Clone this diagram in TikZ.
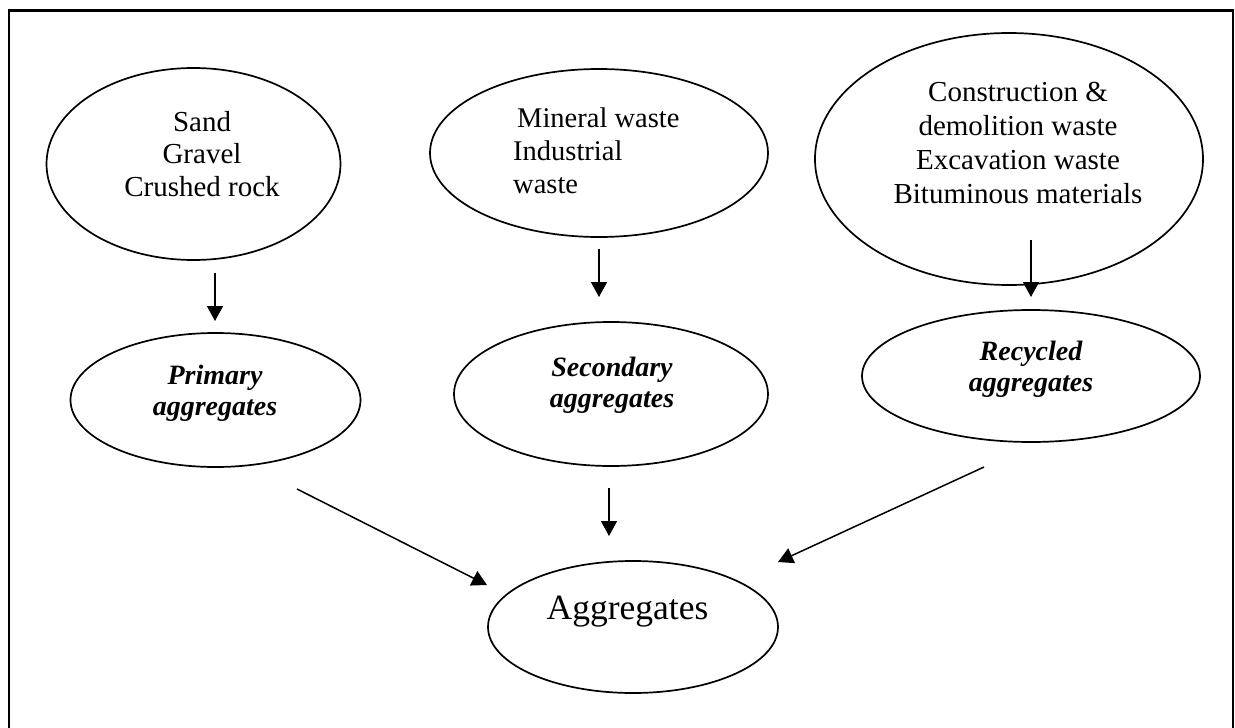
\documentclass[tikz,border=0pt]{standalone}
\usepackage{fontspec}
\setmainfont{Liberation Serif}
\usetikzlibrary{arrows.meta,shapes.geometric}
\tikzset{
  ell/.style={draw, ellipse, line width=1.7pt, inner sep=0pt, outer sep=0pt},
  arr/.style={line width=1.5pt, -{Triangle[width=16pt,length=15pt]}},
  txt/.style={inner sep=0pt, anchor=base},
  rm/.style={font=\fontsize{29}{32.5}\selectfont},
  bi/.style={font=\fontsize{28}{31.5}\selectfont\bfseries\itshape},
  frame/.style={line width=2.3pt, line join=miter},
}
\begin{document}
\begin{tikzpicture}[x=1pt,y=-1pt]
\useasboundingbox (0,0) rectangle (1235,728);
\draw[frame] (9.2,745) -- (9.2,10.5) -- (1233.2,10.5) -- (1233.2,745);

% ellipses
\node[ell, minimum width=294pt, minimum height=192pt] (e1) at (193.5,164) {};
\node[ell, minimum width=338pt, minimum height=168pt] (e2) at (599,153) {};
\node[ell, minimum width=388pt, minimum height=252pt] (e3) at (1009,159) {};
\node[ell, minimum width=290pt, minimum height=134pt] (e4) at (215.5,400) {};
\node[ell, minimum width=314pt, minimum height=144pt] (e5) at (611,394) {};
\node[ell, minimum width=338pt, minimum height=132pt] (e6) at (1031,376) {};
\node[ell, minimum width=290pt, minimum height=132pt] (e7) at (633,627) {};

% texts
\node[txt, rm] (t1) at (202,131) {\begin{tabular}[t]{@{}c@{}}Sand\\Gravel\\Crushed rock\end{tabular}};
\node[txt, anchor=base west, font=\fontsize{28.5}{33}\selectfont] (t2) at (513,127) {\begin{tabular}[t]{@{}l@{}}\hspace{4pt}Mineral waste\\Industrial\\waste\end{tabular}};
\node[txt, font=\fontsize{29}{34}\selectfont] (t3) at (1018,101) {\begin{tabular}[t]{@{}c@{}}Construction \&\\demolition waste\\Excavation waste\\Bituminous materials\end{tabular}};
\node[txt, bi] (t4) at (215,384) {\begin{tabular}[t]{@{}c@{}}Primary\\aggregates\end{tabular}};
\node[txt, bi] (t5) at (612,376) {\begin{tabular}[t]{@{}c@{}}Secondary\\aggregates\end{tabular}};
\node[txt, bi] (t6) at (1031,360) {\begin{tabular}[t]{@{}c@{}}Recycled\\aggregates\end{tabular}};
\node[txt, font=\fontsize{35.5}{40}\selectfont] (t7) at (627.5,619) {Aggregates};

% arrow ends
\coordinate (a1s) at (215,273);  \coordinate (a1e) at (215,321);
\coordinate (a2s) at (599,249);  \coordinate (a2e) at (599,297);
\coordinate (a3s) at (1031,240); \coordinate (a3e) at (1031,297);
\coordinate (a4s) at (609,488);  \coordinate (a4e) at (609,536);
\coordinate (a5s) at (297,489);  \coordinate (a5e) at (487,585);
\coordinate (a6s) at (984,467);  \coordinate (a6e) at (778,562);

\draw[arr] (a1s) -- (a1e);
\draw[arr] (a2s) -- (a2e);
\draw[arr] (a3s) -- (a3e);
\draw[arr] (a4s) -- (a4e);
\draw[arr] (a5s) -- (a5e);
\draw[arr] (a6s) -- (a6e);
\end{tikzpicture}
\end{document}
